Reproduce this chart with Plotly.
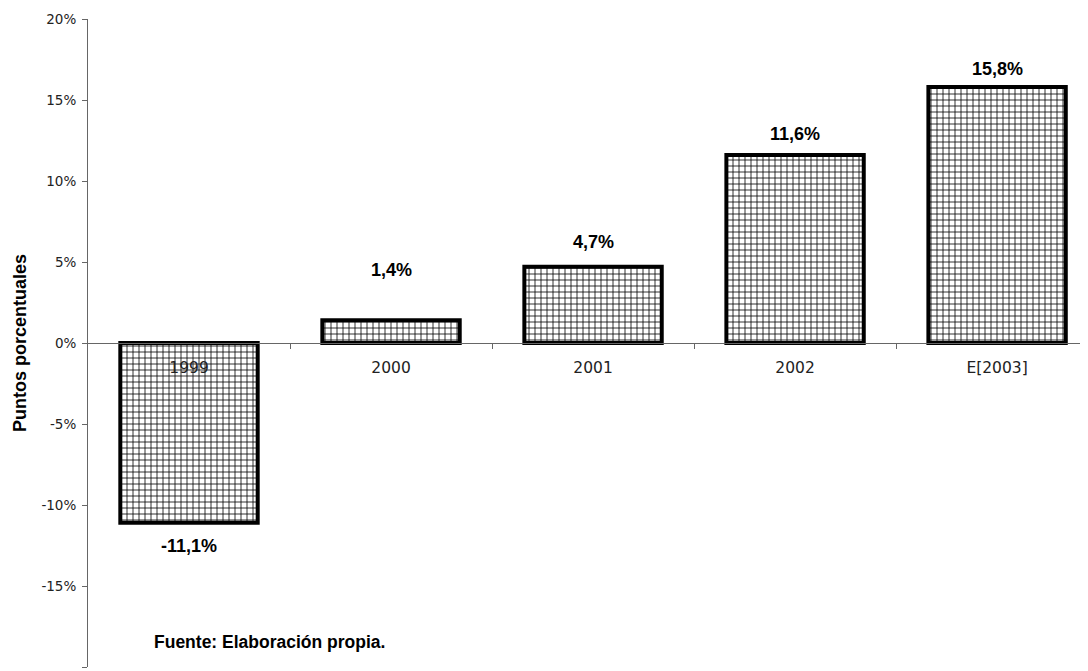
import plotly.graph_objects as go

categories = ["1999", "2000", "2001", "2002", "E[2003]"]
values = [-11.1, 1.4, 4.7, 11.6, 15.8]
value_labels = ["-11,1%", "1,4%", "4,7%", "11,6%", "15,8%"]
y_tickvals = [-20, -15, -10, -5, 0, 5, 10, 15, 20]
y_ticktext = ["-20%", "-15%", "-10%", "-5%", "0%", "5%", "10%", "15%", "20%"]

# label offsets (pixels from bar end), style only
label_gap = [23, 50, 25, 21, 18]

positions = list(range(len(categories)))

fig = go.Figure()
fig.add_trace(go.Bar(
    x=positions, y=values, width=0.68,
    marker=dict(
        color="white",
        line=dict(color="black", width=4),
        pattern=dict(shape="+", size=6, solidity=0.25, fgcolor="black", fgopacity=1, bgcolor="white"),
    ),
    showlegend=False, hoverinfo="skip",
))

for i, v, t, g in zip(positions, values, value_labels, label_gap):
    fig.add_annotation(
        x=i, y=v, xref="x", yref="y", text="<b>" + t + "</b>", showarrow=False,
        yshift=g if v >= 0 else -g,
        font=dict(family="Liberation Sans, Arial", size=18, color="black"),
        xanchor="center", yanchor="middle",
    )

fig.add_annotation(
    xref="paper", yref="paper", x=0.064, y=0.039, xanchor="left", yanchor="middle",
    text="<b>Fuente: Elaboración propia.</b>", showarrow=False,
    font=dict(family="Liberation Sans, Arial", size=17.5, color="black"),
)

# page body has an 8px margin; figure sized so the plot sits where the reference has it
fig.update_layout(
    width=1080, height=663,
    margin=dict(l=80, r=0, t=11, b=4),
    paper_bgcolor="white", plot_bgcolor="white",
    xaxis=dict(
        range=[-0.5, 4.45], anchor="free", position=0.5, automargin=False,
        tickmode="array", tickvals=positions, ticktext=categories,
        showline=True, linecolor="#666", linewidth=1,
        ticks="", ticklabelstandoff=10,
        tickfont=dict(family="DejaVu Sans, Verdana", size=15.5, color="#222"),
        showgrid=False, zeroline=False,
    ),
    xaxis2=dict(
        range=[-0.5, 4.45], anchor="free", position=0.5, overlaying="x", automargin=False,
        tickmode="array", tickvals=[p + 0.5 for p in positions], showticklabels=False,
        ticks="outside", ticklen=5, tickcolor="#666", showline=False,
        showgrid=False, zeroline=False,
    ),
    yaxis=dict(
        range=[-20, 20], tickvals=y_tickvals, ticktext=y_ticktext, automargin=False,
        showline=True, linecolor="#666", linewidth=1,
        ticks="outside", ticklen=5, tickcolor="#666", ticklabelstandoff=3,
        tickfont=dict(family="DejaVu Sans, Verdana", size=13.5, color="#222"),
        showgrid=False, zeroline=False,
    ),
)

fig.add_trace(go.Scatter(x=[None], y=[None], xaxis="x2", showlegend=False, hoverinfo="skip"))

fig.add_annotation(
    xref="paper", yref="paper", x=-0.068, y=0.5, xanchor="center", yanchor="middle",
    text="<b>Puntos porcentuales</b>", textangle=-90, showarrow=False,
    font=dict(family="Liberation Sans, Arial", size=18, color="black"),
)

fig.write_html("out.html")
